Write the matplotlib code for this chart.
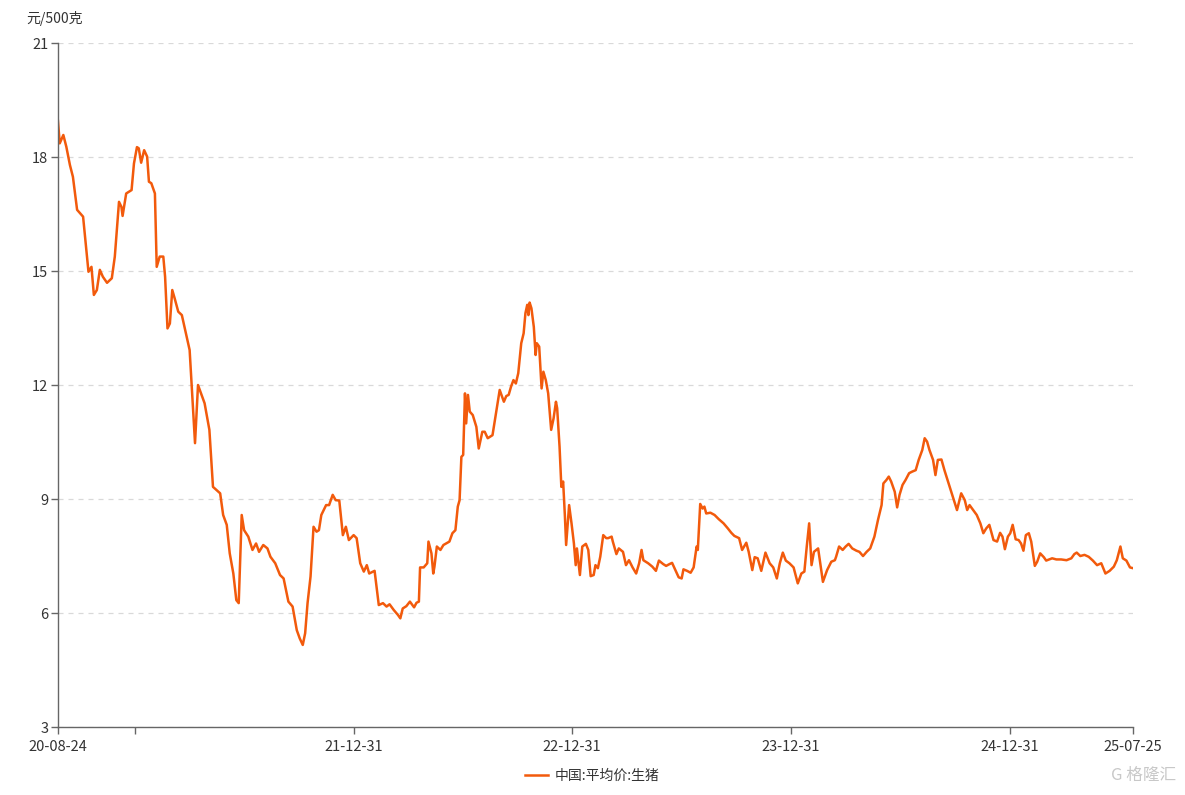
import matplotlib
matplotlib.use("Agg")
import matplotlib.pyplot as plt
import pandas as pd

plt.rcParams['font.family'] = ['Noto Sans CJK SC', 'DejaVu Sans']

# 中国:平均价:生猪 (元/500克)
dates = [
    '2020-08-24', '2020-08-27', '2020-09-02', '2020-09-07', '2020-09-13', '2020-09-18', '2020-09-25',
    '2020-10-05', '2020-10-10', '2020-10-14', '2020-10-19', '2020-10-23', '2020-10-28', '2020-11-02',
    '2020-11-07', '2020-11-14', '2020-11-22', '2020-11-27', '2020-12-04', '2020-12-08', '2020-12-10',
    '2020-12-16', '2020-12-25', '2020-12-29', '2021-01-03', '2021-01-06', '2021-01-10', '2021-01-15',
    '2021-01-20', '2021-01-23', '2021-01-27', '2021-02-02', '2021-02-05', '2021-02-10', '2021-02-16',
    '2021-02-19', '2021-02-23', '2021-02-27', '2021-03-03', '2021-03-07', '2021-03-13', '2021-03-19',
    '2021-04-01', '2021-04-10', '2021-04-15', '2021-04-21', '2021-04-26', '2021-05-04', '2021-05-10',
    '2021-05-22', '2021-05-27', '2021-06-02', '2021-06-07', '2021-06-13', '2021-06-18', '2021-06-22',
    '2021-06-27', '2021-07-01', '2021-07-08', '2021-07-15', '2021-07-21', '2021-07-26', '2021-08-02',
    '2021-08-09', '2021-08-14', '2021-08-22', '2021-08-30', '2021-09-05', '2021-09-13', '2021-09-20',
    '2021-09-27', '2021-10-02', '2021-10-07', '2021-10-11', '2021-10-15', '2021-10-20', '2021-10-25',
    '2021-10-30', '2021-11-03', '2021-11-07', '2021-11-15', '2021-11-20', '2021-11-26', '2021-12-01',
    '2021-12-07', '2021-12-13', '2021-12-18', '2021-12-23', '2021-12-31', '2022-01-05', '2022-01-11',
    '2022-01-17', '2022-01-22', '2022-01-26', '2022-02-04', '2022-02-11', '2022-02-18', '2022-02-24',
    '2022-03-01', '2022-03-08', '2022-03-15', '2022-03-19', '2022-03-23', '2022-03-29', '2022-04-04',
    '2022-04-11', '2022-04-15', '2022-04-19', '2022-04-21', '2022-04-27', '2022-05-03', '2022-05-05',
    '2022-05-10', '2022-05-13', '2022-05-15', '2022-05-19', '2022-05-25', '2022-05-30', '2022-06-09',
    '2022-06-14', '2022-06-19', '2022-06-23', '2022-06-26', '2022-06-29', '2022-07-02', '2022-07-05',
    '2022-07-07', '2022-07-10', '2022-07-13', '2022-07-18', '2022-07-24', '2022-07-28', '2022-08-03',
    '2022-08-07', '2022-08-12', '2022-08-20', '2022-08-25', '2022-09-01', '2022-09-08', '2022-09-12',
    '2022-09-16', '2022-09-20', '2022-09-24', '2022-09-28', '2022-10-02', '2022-10-07', '2022-10-11',
    '2022-10-14', '2022-10-17', '2022-10-19', '2022-10-21', '2022-10-24', '2022-10-28', '2022-10-31',
    '2022-11-02', '2022-11-06', '2022-11-10', '2022-11-13', '2022-11-17', '2022-11-21', '2022-11-26',
    '2022-11-30', '2022-12-04', '2022-12-06', '2022-12-10', '2022-12-13', '2022-12-16', '2022-12-19',
    '2022-12-21', '2022-12-26', '2022-12-30', '2023-01-03', '2023-01-06', '2023-01-08', '2023-01-13',
    '2023-01-17', '2023-01-23', '2023-01-27', '2023-01-31', '2023-02-05', '2023-02-08', '2023-02-12',
    '2023-02-16', '2023-02-21', '2023-02-26', '2023-03-01', '2023-03-07', '2023-03-09', '2023-03-15',
    '2023-03-19', '2023-03-26', '2023-03-31', '2023-04-05', '2023-04-11', '2023-04-17', '2023-04-22',
    '2023-04-26', '2023-04-29', '2023-05-07', '2023-05-14', '2023-05-20', '2023-05-25', '2023-06-01',
    '2023-06-06', '2023-06-12', '2023-06-16', '2023-06-20', '2023-06-27', '2023-07-02', '2023-07-05',
    '2023-07-11', '2023-07-17', '2023-07-22', '2023-07-27', '2023-07-29', '2023-08-02', '2023-08-06',
    '2023-08-09', '2023-08-12', '2023-08-19', '2023-08-26', '2023-09-02', '2023-09-10', '2023-09-17',
    '2023-09-23', '2023-09-28', '2023-10-06', '2023-10-11', '2023-10-18', '2023-10-22', '2023-10-28',
    '2023-11-01', '2023-11-06', '2023-11-12', '2023-11-19', '2023-11-26', '2023-12-02', '2023-12-08',
    '2023-12-13', '2023-12-18', '2023-12-23', '2023-12-29', '2024-01-05', '2024-01-12', '2024-01-18',
    '2024-01-23', '2024-01-27', '2024-01-31', '2024-02-04', '2024-02-08', '2024-02-15', '2024-02-23',
    '2024-03-01', '2024-03-08', '2024-03-14', '2024-03-16', '2024-03-21', '2024-03-27', '2024-04-01',
    '2024-04-06', '2024-04-12', '2024-04-19', '2024-04-24', '2024-04-30', '2024-05-06', '2024-05-12',
    '2024-05-19', '2024-05-25', '2024-05-31', '2024-06-03', '2024-06-08', '2024-06-12', '2024-06-16',
    '2024-06-22', '2024-06-26', '2024-06-30', '2024-07-05', '2024-07-10', '2024-07-16', '2024-07-21',
    '2024-07-27', '2024-08-01', '2024-08-07', '2024-08-11', '2024-08-15', '2024-08-19', '2024-08-25',
    '2024-08-29', '2024-09-02', '2024-09-08', '2024-09-13', '2024-09-20', '2024-09-27', '2024-10-04',
    '2024-10-11', '2024-10-17', '2024-10-21', '2024-10-25', '2024-11-01', '2024-11-06', '2024-11-12',
    '2024-11-17', '2024-11-22', '2024-11-27', '2024-12-04', '2024-12-10', '2024-12-15', '2024-12-19',
    '2024-12-23', '2024-12-28', '2025-01-01', '2025-01-05', '2025-01-10', '2025-01-15', '2025-01-19',
    '2025-01-23', '2025-01-27', '2025-02-01', '2025-02-05', '2025-02-11', '2025-02-15', '2025-02-20',
    '2025-02-26', '2025-03-02', '2025-03-07', '2025-03-12', '2025-03-19', '2025-03-27', '2025-04-05',
    '2025-04-13', '2025-04-18', '2025-04-22', '2025-04-28', '2025-05-05', '2025-05-12', '2025-05-19',
    '2025-05-26', '2025-06-02', '2025-06-09', '2025-06-16', '2025-06-23', '2025-06-28', '2025-07-04',
    '2025-07-08', '2025-07-14', '2025-07-20', '2025-07-25',
]
prices = [
    18.95, 18.36, 18.58, 18.27, 17.79, 17.48, 16.61,
    16.43, 15.64, 14.98, 15.11, 14.37, 14.50, 15.03,
    14.85, 14.69, 14.81, 15.38, 16.82, 16.69, 16.45,
    17.04, 17.13, 17.83, 18.26, 18.23, 17.85, 18.18,
    18.01, 17.35, 17.31, 17.04, 15.11, 15.38, 15.38,
    14.85, 13.49, 13.62, 14.50, 14.28, 13.93, 13.84,
    12.92, 10.47, 12.00, 11.74, 11.52, 10.82, 9.32,
    9.15, 8.58, 8.32, 7.57, 7.04, 6.34, 6.26,
    8.58, 8.18, 8.01, 7.66, 7.83, 7.61, 7.79,
    7.70, 7.48, 7.31, 7.00, 6.91, 6.30, 6.17,
    5.55, 5.33, 5.16, 5.47, 6.26, 6.96, 8.27,
    8.14, 8.18, 8.58, 8.84, 8.84, 9.11, 8.97,
    8.96, 8.05, 8.27, 7.92, 8.05, 7.97, 7.31,
    7.09, 7.26, 7.04, 7.11, 6.21, 6.26, 6.17,
    6.23, 6.08, 5.95, 5.86, 6.12, 6.18, 6.30,
    6.15, 6.27, 6.30, 7.20, 7.20, 7.31, 7.88,
    7.57, 7.04, 7.22, 7.75, 7.66, 7.79, 7.88,
    8.10, 8.18, 8.80, 8.97, 10.11, 10.16, 11.78,
    10.99, 11.74, 11.30, 11.21, 10.90, 10.33, 10.77,
    10.77, 10.60, 10.68, 11.17, 11.87, 11.56, 11.71,
    11.74, 11.96, 12.13, 12.04, 12.31, 13.10, 13.36,
    13.89, 14.11, 13.84, 14.17, 14.02, 13.53, 12.79,
    13.10, 13.01, 11.91, 12.35, 12.13, 11.78, 10.82,
    11.12, 11.56, 11.39, 10.38, 9.32, 9.46, 8.53,
    7.79, 8.84, 8.36, 7.83, 7.26, 7.70, 7.00,
    7.75, 7.82, 7.66, 6.97, 7.00, 7.26, 7.18,
    7.48, 8.05, 7.97, 7.97, 8.01, 7.88, 7.55,
    7.70, 7.61, 7.26, 7.39, 7.20, 7.04, 7.31,
    7.66, 7.39, 7.31, 7.22, 7.11, 7.38, 7.29,
    7.24, 7.29, 7.32, 7.18, 6.94, 6.91, 7.15,
    7.11, 7.06, 7.20, 7.75, 7.66, 8.87, 8.75,
    8.80, 8.62, 8.64, 8.58, 8.47, 8.36, 8.23,
    8.11, 8.03, 7.97, 7.66, 7.85, 7.61, 7.13,
    7.47, 7.44, 7.11, 7.59, 7.31, 7.20, 6.91,
    7.31, 7.59, 7.38, 7.31, 7.20, 6.78, 7.04,
    7.09, 7.75, 8.36, 7.26, 7.61, 7.70, 6.82,
    7.13, 7.35, 7.39, 7.48, 7.75, 7.66, 7.75,
    7.82, 7.70, 7.64, 7.61, 7.50, 7.61, 7.70,
    8.01, 8.45, 8.84, 9.41, 9.50, 9.59, 9.46,
    9.19, 8.78, 9.11, 9.37, 9.50, 9.68, 9.72,
    9.76, 10.03, 10.29, 10.60, 10.51, 10.29, 10.03,
    9.63, 10.03, 10.04, 9.76, 9.41, 9.06, 8.71,
    9.15, 8.97, 8.71, 8.84, 8.69, 8.58, 8.36,
    8.10, 8.23, 8.32, 7.92, 7.88, 8.11, 8.01,
    7.68, 8.01, 8.10, 8.32, 7.94, 7.92, 7.83,
    7.64, 8.05, 8.10, 7.88, 7.24, 7.35, 7.57,
    7.47, 7.38, 7.41, 7.44, 7.41, 7.41, 7.39,
    7.44, 7.55, 7.59, 7.50, 7.53, 7.48, 7.38,
    7.26, 7.31, 7.04, 7.11, 7.22, 7.39, 7.75,
    7.44, 7.38, 7.20, 7.18,
]

tick_dates = ['2020-08-24', '2020-12-31', '2021-12-31', '2022-12-31', '2023-12-31', '2024-12-31', '2025-07-25']
tick_labels = ['20-08-24', '', '21-12-31', '22-12-31', '23-12-31', '24-12-31', '25-07-25']
y_ticks = [3, 6, 9, 12, 15, 18, 21]

df = pd.DataFrame({'date': pd.to_datetime(dates), 'price': prices})

fig = plt.figure(figsize=(11.85, 7.95), dpi=100)
ax = fig.add_axes([0.0489, 0.0855, 0.9072, 0.8604])

ax.plot(df['date'], df['price'], color='#F25A0C', linewidth=1.8, label='中国:平均价:生猪')

ax.set_ylim(3, 21)
ax.set_xlim(pd.Timestamp(tick_dates[0]), pd.Timestamp(tick_dates[-1]))
ax.set_yticks(y_ticks)
ax.set_xticks(pd.to_datetime(tick_dates))
ax.set_xticklabels(tick_labels)

ax.yaxis.grid(True, linestyle=(0, (4, 4)), color='#d9d9d9', linewidth=0.9)
ax.set_axisbelow(True)

for s in ['top', 'right']:
    ax.spines[s].set_visible(False)
for s in ['left', 'bottom']:
    ax.spines[s].set_color('#666666')
    ax.spines[s].set_linewidth(1.0)

ax.tick_params(axis='both', colors='#666666', labelcolor='#333333', labelsize=10.5, length=5, width=1)
ax.tick_params(axis='x', pad=4)
ax.tick_params(axis='y', pad=2)

fig.text(0.022, 0.977, '元/500克', fontsize=10, color='#333333', ha='left', va='center')

fig.legend(loc='center', bbox_to_anchor=(0.5, 0.024), frameon=False, fontsize=10,
           handlelength=1.6, handletextpad=0.5, labelcolor='#333333')

# watermark
fig.text(0.965, 0.024, 'G 格隆汇', fontsize=12, color='#c8c8c8', ha='center', va='center')

fig.savefig('out.png', dpi=100)
